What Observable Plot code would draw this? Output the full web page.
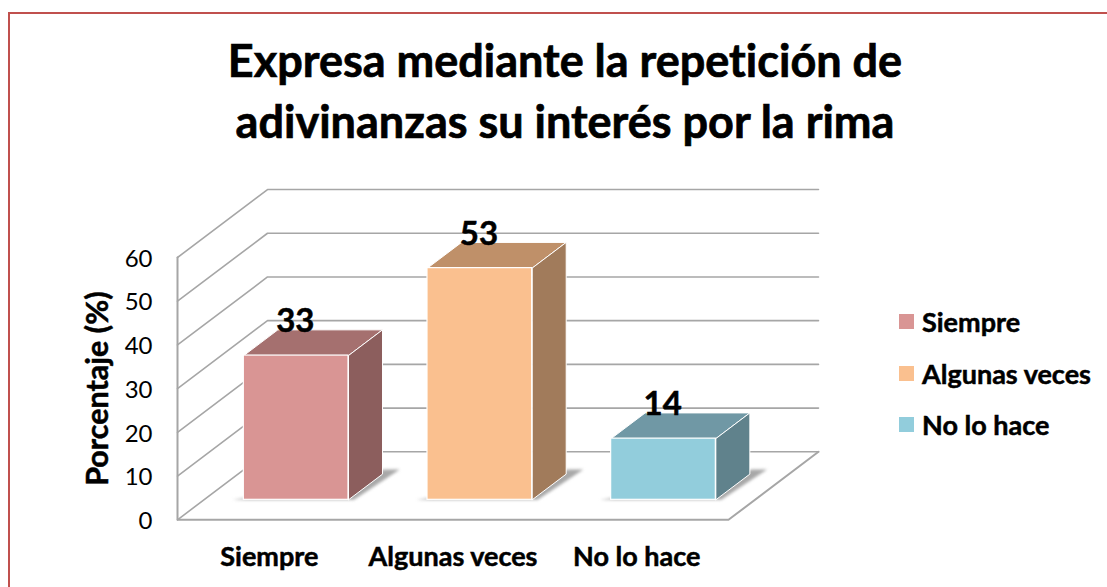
<!DOCTYPE html>
<html>
<head>
<meta charset="utf-8">
<script src="https://cdn.jsdelivr.net/npm/d3@7"></script>
<script src="https://cdn.jsdelivr.net/npm/@observablehq/plot@0.6"></script>
<style>
html,body{margin:0;padding:0;background:#fff;}
body{width:1107px;height:587px;overflow:hidden;position:relative;font-family:Lato,sans-serif;color:#000;font-variant-ligatures:none;}
#frame{position:absolute;left:8px;top:12px;width:1200px;height:700px;border:2.5px solid #c0504d;box-sizing:border-box;}
#title{position:absolute;left:0;width:1130px;top:30px;text-align:center;font-weight:700;font-size:45px;line-height:61px;-webkit-text-stroke:0.7px #000;}
#chart{position:absolute;left:0;top:170px;}
#chart text{font-variant-ligatures:none;}
#chart g[font-weight] text{stroke:#000;stroke-width:0.5px;}
.row{position:absolute;left:899px;display:flex;align-items:center;font-weight:700;font-size:27px;white-space:nowrap;height:30px;-webkit-text-stroke:0.5px #000;}
.sw{width:15px;height:15px;margin-right:8px;flex:none;}
</style>
</head>
<body>
<div id="frame"></div>
<div id="title">Expresa mediante la repetición de<br>adivinanzas su interés por la rima</div>
<div id="chart"></div>
<div id="legend"></div>
<script>
const categories = ["Siempre", "Algunas veces", "No lo hace"];
const values = [33, 53, 14];
const yTicks = [0, 10, 20, 30, 40, 50, 60];
const frontColors = ["#d99594", "#fac08f", "#92cddc"];
const topColors = ["#a5706f", "#bf9069", "#7098a5"];
const sideColors = ["#8c5e5d", "#a17b5b", "#60828c"];
const yLabel = "Porcentaje (%)";

// oblique projection: depth d in [0,1] shifts a point along x (category units) and y (value units)
const depthX = 0.49, depthY = 15.55;
const barD0 = 0.294, barD1 = 0.672, barHalf = 0.285, barShift = 0.002;
const P = (x, v, d) => ({px: x + d * depthX, py: v + d * depthY});

const bars = categories.map((c, i) => {
  const xL = i + 0.5 + barShift - barHalf, xR = i + 0.5 + barShift + barHalf, v = values[i];
  return {c, i, v, xL, xR};
});
const poly = (id, fill, pts) => pts.map(p => ({id, fill, ...p}));

const tops = bars.flatMap(b => poly("t" + b.i, topColors[b.i], [
  P(b.xL, b.v, barD0), P(b.xR, b.v, barD0), P(b.xR, b.v, barD1), P(b.xL, b.v, barD1), P(b.xL, b.v, barD0)]));
const sides = bars.flatMap(b => poly("s" + b.i, sideColors[b.i], [
  P(b.xR, 0, barD0), P(b.xR, b.v, barD0), P(b.xR, b.v, barD1), P(b.xR, 0, barD1), P(b.xR, 0, barD0)]));
const shadows = bars.flatMap(b => poly("h" + b.i, "#a8a8a8", [
  P(b.xL - 0.06, 0, barD0), P(b.xR + 0.03, 0, barD0), P(b.xR + 0.06, 0, barD1 + 0.068), P(b.xR - 0.02, 0, barD1 + 0.068), P(b.xL - 0.02, 0, barD0 + 0.02)]));

const grid = yTicks.map(v => [P(0, v, 0), P(0, v, 1), P(3, v, 1)]).flatMap((pts, k) => poly("g" + k, null, pts));
const floor = poly("f", null, [P(0, 60, 0), P(0, 0, 0), P(3, 0, 0), P(3, 0, 1)]);

const chart = Plot.plot({
  width: 860, height: 417,
  marginLeft: 177, marginRight: 132, marginTop: 87, marginBottom: 67.7,
  x: {domain: [0, 3], axis: null},
  y: {domain: [0, 60], axis: null},
  style: {background: "transparent", fontFamily: "Lato, sans-serif", overflow: "visible"},
  marks: [
    Plot.line(grid, {x: "px", y: "py", z: "id", stroke: "#a6a6a6", strokeWidth: 1.6, curve: "linear"}),
    Plot.line(floor, {x: "px", y: "py", z: "id", stroke: "#a6a6a6", strokeWidth: 2, curve: "linear"}),
    Plot.line(shadows, {x: "px", y: "py", z: "id", fill: "fill", stroke: null, imageFilter: "blur(1.5px)"}),
    Plot.line(tops, {x: "px", y: "py", z: "id", fill: "fill", stroke: "#fff", strokeWidth: 1}),
    Plot.line(sides, {x: "px", y: "py", z: "id", fill: "fill", stroke: "#fff", strokeWidth: 1}),
    Plot.rect(bars, {
      x1: d => P(d.xL, 0, barD0).px, x2: d => P(d.xR, 0, barD0).px,
      y1: d => P(0, 0, barD0).py, y2: d => P(0, d.v, barD0).py,
      fill: (d, i) => frontColors[i], stroke: "#fff", strokeWidth: 1.2, inset: 0
    }),
    Plot.axisY({ticks: yTicks, tickSize: 0, tickPadding: 25, dy: 1.5, fontSize: 24, label: null, anchor: "left"}),
    Plot.axisX({ticks: [0.5, 1.5, 2.5], tickFormat: d => categories[Math.floor(d)], tickSize: 0, tickPadding: 27, fontSize: 27, fontWeight: 700, label: null, anchor: "bottom"}),
    Plot.text([yLabel], {x: 0, y: 30, dx: -79, rotate: -90, text: d => d, fontSize: 30.5, fontWeight: 700}),
    Plot.text(bars, {x: d => d.i + 0.5, y: "v", text: "v", dx: 26, dy: -54, fontSize: 33, fontWeight: 700, fill: "#000"})
  ]
});
document.getElementById("chart").appendChild(chart);

const legendTops = [306, 358, 409];
categories.forEach((c, i) => {
  const row = document.createElement("div");
  row.className = "row";
  row.style.top = legendTops[i] + "px";
  const sw = document.createElement("span");
  sw.className = "sw";
  sw.style.background = frontColors[i];
  row.appendChild(sw);
  row.appendChild(document.createTextNode(c));
  document.getElementById("legend").appendChild(row);
});
</script>
</body>
</html>
